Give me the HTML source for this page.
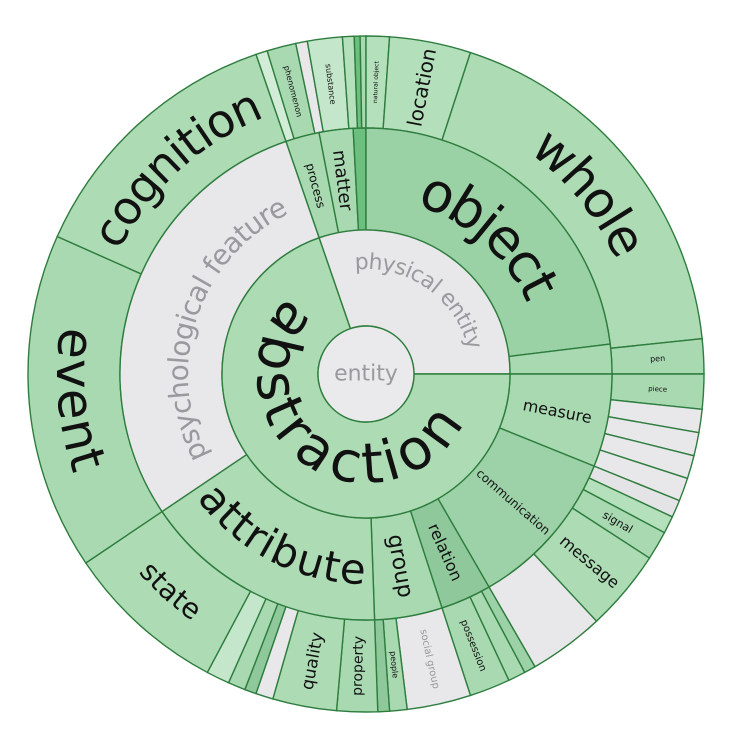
<!DOCTYPE html>
<html><head><meta charset="utf-8"><style>
html,body{margin:0;padding:0;background:#fff;}
svg{display:block;}
text{font-family:"DejaVu Sans","Liberation Sans",sans-serif;}
</style></head><body>
<svg id="chart" width="752" height="754" viewBox="0 0 752 754"></svg>
<script>
// ---- data (angular spans in degrees, rings start at -109deg) ----
const ring2Labels = ["physical entity","abstraction"];
const ring2Spans = [109,251];
const ring3Labels = ["process","matter","","object","thing","measure","communication","relation","group","attribute","psychological feature"];
const ring3Spans = [8,8,3,83,7,22,38,12,16,58,105];
const ring4Labels = ["","phenomenon","","substance","","","","natural object","location","whole","pen",
 "piece","","","","","","","signal","message","","","","possession","social group","people","","property","quality",
 "","","","","state","event","cognition"];
const ring4Spans = [2,5,2,6,2,1,1,4,14,66,6,
 6,4,4,4,4,3,3,5,14,13,2,3,7,11,3,2,7,11,
 3,2,3,4,28,58,47];
// ---- styles (not data) ----
const ring2Fill = ["#e8e7ea","#acdbb4"];
const ring3Fill = ["#a8d9b1","#a8d9b1","#6cbf7e","#9ad1a5","#a8d9b1","#a8d9b1","#9dd2a8","#8fc99b","#a8d9b1","#acdbb4","#e8e7ea"];
const ring4Fill = ["#d3ecd8","#a8d9b1","#e8e7ea","#c4e6ca","#b5e0bc","#6cbf7e","#a8d9b1","#b5e0bc","#b3dfba","#acdbb4","#a8d9b1",
 "#a8d9b1","#e8e7ea","#e8e7ea","#e8e7ea","#e8e7ea","#e4e4e6","#b5e0bc","#a8d9b1","#acdbb4","#e8e7ea","#9dd2a8","#a8d9b1","#a8d9b1","#e8e7ea","#a8d9b1","#8fc99b","#a8d9b1","#acdbb4",
 "#e8e7ea","#8fc99b","#a8d9b1","#c4e6ca","#acdbb4","#a8d9b1","#acdbb4"];
const labelStyle = {
 "physical entity":{m:"cw",s:22,c:"#9a9a9e",r:112},
 "abstraction":{m:"ccw",s:56,c:"#111",r:90},
 "object":{m:"cw",s:54,c:"#111"},
 "whole":{m:"cw",s:50,c:"#111"},
 "cognition":{m:"cw",s:46,c:"#111"},
 "event":{m:"ccw",s:50,c:"#111"},
 "attribute":{m:"ccw",s:42,c:"#111"},
 "psychological feature":{m:"cw",s:28,c:"#9a9a9e",r:188},
 "state":{m:"ccw",s:28,c:"#111"},
 "location":{m:"r",s:20,c:"#111"},
 "matter":{m:"r",s:18,c:"#111"},
 "process":{m:"r",s:12,c:"#111"},
 "measure":{m:"r",s:16,c:"#111"},
 "communication":{m:"r",s:12,c:"#111"},
 "relation":{m:"r",s:16,c:"#111"},
 "group":{m:"r",s:22,c:"#111"},
 "message":{m:"r",s:16,c:"#111"},
 "signal":{m:"r",s:11,c:"#111"},
 "quality":{m:"r",s:17,c:"#111"},
 "property":{m:"r",s:14,c:"#111"},
 "possession":{m:"r",s:10,c:"#111"},
 "social group":{m:"r",s:10,c:"#999"},
 "people":{m:"r",s:8,c:"#111"},
 "phenomenon":{m:"r",s:8,c:"#111"},
 "substance":{m:"r",s:8,c:"#111"},
 "natural object":{m:"r",s:6,c:"#111"},
 "pen":{m:"r",s:8,c:"#111"},
 "piece":{m:"r",s:7,c:"#111"}
};
const CX=366, CY=374, R=[48,144,246,338], START=-109;
const NS="http://www.w3.org/2000/svg";
const svg=document.getElementById("chart");
const rad=a=>a*Math.PI/180;
const pt=(r,a)=>[CX+r*Math.cos(rad(a)),CY+r*Math.sin(rad(a))];
function arcPath(r0,r1,a0,a1){
  const L=(a1-a0)>180?1:0;
  const [x0,y0]=pt(r1,a0),[x1,y1]=pt(r1,a1),[x2,y2]=pt(r0,a1),[x3,y3]=pt(r0,a0);
  return `M${x0},${y0}A${r1},${r1} 0 ${L} 1 ${x1},${y1}L${x2},${y2}A${r0},${r0} 0 ${L} 0 ${x3},${y3}Z`;
}
let uid=0;
function slug(s){return s.replace(/\s+/g,'-');}
function addLabel(g,label,r0,r1,a0,a1){
  const st=labelStyle[label]; if(!st) return;
  const rm=st.r||(r0+r1)/2, am=(a0+a1)/2;
  const t=document.createElementNS(NS,"text");
  
  
  t.setAttribute("font-size",st.s); t.setAttribute("fill",st.c);
  t.setAttribute("dominant-baseline","central");
  if(st.m==="r"){
    let rot=am; if(am>90&&am<270) rot=am+180; if(am<-90) rot=am+180;
    const [x,y]=pt(rm,am);
    t.setAttribute("text-anchor","middle");
    t.setAttribute("transform",`translate(${x},${y}) rotate(${rot})`);
    t.textContent=label;
  } else {
    const id="lp"+(uid++);
    const p=document.createElementNS(NS,"path");
    const span=a1-a0, big=span>180?1:0;
    let d;
    if(st.m==="cw"){const [x0,y0]=pt(rm,a0),[x1,y1]=pt(rm,a1);d=`M${x0},${y0}A${rm},${rm} 0 ${big} 1 ${x1},${y1}`;}
    else {const [x0,y0]=pt(rm,a1),[x1,y1]=pt(rm,a0);d=`M${x0},${y0}A${rm},${rm} 0 ${big} 0 ${x1},${y1}`;}
    p.setAttribute("id",id);p.setAttribute("d",d);p.setAttribute("fill","none");
    svg.appendChild(p);
    const tp=document.createElementNS(NS,"textPath");
    tp.setAttribute("href","#"+id);tp.setAttribute("startOffset","50%");
    t.setAttribute("text-anchor","middle");
    tp.textContent=label; t.appendChild(tp);
  }
  g.appendChild(t);
}
function drawRing(labels,spans,fills,r0,r1,ringName){
  const g=document.createElementNS(NS,"g");
  
  
  svg.appendChild(g);
  let a=START; const lg=[];
  labels.forEach((lab,i)=>{
    const a0=a,a1=a+spans[i]; a=a1;
    const p=document.createElementNS(NS,"path");
    
    
    p.setAttribute("d",arcPath(r0,r1,a0,a1));
    p.setAttribute("fill",fills[i]);p.setAttribute("stroke","#2e7d3e");p.setAttribute("stroke-width","1.4");
    g.appendChild(p);
    if(lab) lg.push([lab,a0,a1]);
  });
  lg.forEach(([lab,a0,a1])=>addLabel(g,lab,r0,r1,a0,a1));
}
drawRing(ring4Labels,ring4Spans,ring4Fill,R[2],R[3],"outer-ring");
drawRing(ring3Labels,ring3Spans,ring3Fill,R[1],R[2],"third-ring");
drawRing(ring2Labels,ring2Spans,ring2Fill,R[0],R[1],"second-ring");
const c=document.createElementNS(NS,"circle");


c.setAttribute("cx",CX);c.setAttribute("cy",CY);c.setAttribute("r",R[0]);
c.setAttribute("fill","#eaeaec");c.setAttribute("stroke","#2e7d3e");c.setAttribute("stroke-width","1.4");
svg.appendChild(c);
const et=document.createElementNS(NS,"text");


et.setAttribute("x",CX);et.setAttribute("y",CY);et.setAttribute("text-anchor","middle");
et.setAttribute("dominant-baseline","central");et.setAttribute("font-size","22");et.setAttribute("fill","#9a9a9e");
et.textContent="entity";svg.appendChild(et);
</script>
</body></html>
